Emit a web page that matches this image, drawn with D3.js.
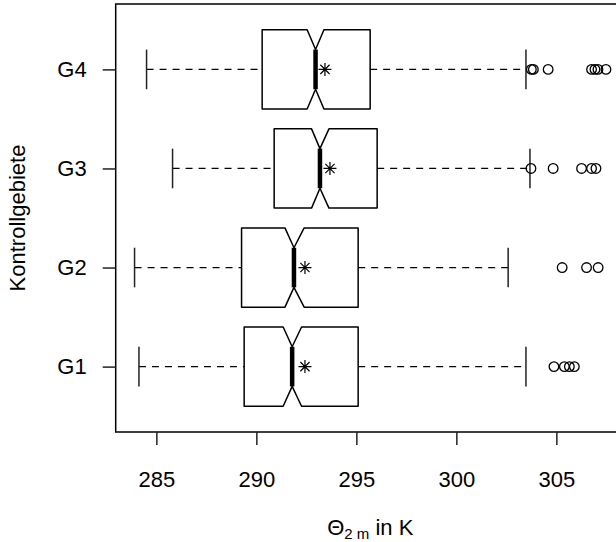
<!DOCTYPE html>
<html>
<head>
<meta charset="utf-8">
<script src="https://cdn.jsdelivr.net/npm/d3@7"></script>
<style>
    body { margin: 0; background: #fff; }
    svg { display: block; font-family: "Liberation Sans", Arial, sans-serif; }
</style>
</head>
<body>
<svg id="chart" width="616" height="542"></svg>
<script>
// boxplot statistics (K)
const groups      = ["G1", "G2", "G3", "G4"];
const whiskerLow  = [284.13, 283.91, 285.81, 284.51];
const q1          = [289.39, 289.26, 290.89, 290.29];
const notchLow    = [291.34, 291.43, 292.76, 292.54];
const medians     = [291.79, 291.88, 293.18, 292.96];
const notchHigh   = [292.26, 292.39, 293.63, 293.38];
const q3          = [295.09, 295.09, 296.04, 295.69];
const whiskerHigh = [303.48, 302.59, 303.68, 303.48];
const means       = [292.43, 292.43, 293.68, 293.43];
const outliers    = [
    [304.88, 305.40, 305.65, 305.90],
    [305.29, 306.51, 307.09],
    [303.73, 304.84, 306.26, 306.76, 306.98],
    [303.75, 303.85, 304.59, 306.76, 306.93, 307.08, 307.48]
];
const xTicks = [285, 290, 295, 300, 305];

const plot = {left: 115.7, top: 4, bottom: 432};
const fontSize = 22;

const stats = groups.map((g, i) => ({
    name: g, pos: i + 1,
    lo: whiskerLow[i], q1: q1[i], nlo: notchLow[i], med: medians[i],
    nhi: notchHigh[i], q3: q3[i], hi: whiskerHigh[i], mean: means[i],
    out: outliers[i]
}));

// R style 4% range extension
const allVals = stats.flatMap(s => [s.lo, s.hi, ...s.out]);
const xmin = d3.min(allVals), xmax = d3.max(allVals);
const ext = (xmax - xmin) * 0.04;

// pixel per unit fixed by the tick spacing in the picture
const pxPerK = 20;
const x = d3.scaleLinear()
    .domain([xmin - ext, xmax + ext])
    .range([plot.left, plot.left + (xmax - xmin + 2 * ext) * pxPerK]);

const y = d3.scaleLinear()
    .domain([0.5 - 0.16, groups.length + 0.5 + 0.16])
    .range([plot.bottom, plot.top]);

const svg = d3.select("#chart");
const bw = 0.4; // half box width in group units
const hw = d => Math.abs(y(0) - y(d));

const g = svg.append("g");

stats.forEach(s => {
    const cy = y(s.pos);
    const h = hw(bw), hn = hw(bw / 2), st = hw(bw / 2);

    // whiskers (dashed)
    [[s.lo, s.q1], [s.q3, s.hi]].forEach(([a, b]) => {
        g.append("line")
            .attr("x1", x(a)).attr("x2", x(b)).attr("y1", cy).attr("y2", cy)
            .attr("stroke", "#000").attr("stroke-width", 1.3).attr("stroke-dasharray", "7,6");
    });

    // staples
    [s.lo, s.hi].forEach(v => {
        g.append("line")
            .attr("x1", x(v)).attr("x2", x(v)).attr("y1", cy - st).attr("y2", cy + st)
            .attr("stroke", "#222").attr("stroke-width", 1.5);
    });

    // notched box
    const pts = [
        [x(s.q1), cy - h], [x(s.nlo), cy - h], [x(s.med), cy - hn], [x(s.nhi), cy - h],
        [x(s.q3), cy - h], [x(s.q3), cy + h], [x(s.nhi), cy + h], [x(s.med), cy + hn],
        [x(s.nlo), cy + h], [x(s.q1), cy + h]
    ];
    g.append("path")
        .attr("d", "M" + pts.map(p => p.join(",")).join("L") + "Z")
        .attr("fill", "#fff").attr("stroke", "#000").attr("stroke-width", 1.5)
        .attr("stroke-linejoin", "round");

    // median
    g.append("line")
        .attr("x1", x(s.med)).attr("x2", x(s.med)).attr("y1", cy - hn).attr("y2", cy + hn)
        .attr("stroke", "#000").attr("stroke-width", 4.5);

    // mean (pch 8)
    const mx = x(s.mean), a = 6.5, b = 4.6;
    g.append("path")
        .attr("d", `M${mx - a},${cy}L${mx + a},${cy}M${mx},${cy - a}L${mx},${cy + a}` +
                   `M${mx - b},${cy - b}L${mx + b},${cy + b}M${mx - b},${cy + b}L${mx + b},${cy - b}`)
        .attr("stroke", "#000").attr("stroke-width", 1.2).attr("fill", "none");

    // outliers
    g.selectAll(null)
        .data(s.out)
        .join("circle")
        .attr("cx", d => x(d)).attr("cy", cy).attr("r", 4.8)
        .attr("fill", "none").attr("stroke", "#000").attr("stroke-width", 1.3);
});

// frame
svg.append("rect")
    .attr("x", x.range()[0]).attr("y", plot.top)
    .attr("width", x.range()[1] - x.range()[0]).attr("height", plot.bottom - plot.top)
    .attr("fill", "none").attr("stroke", "#000").attr("stroke-width", 1.5);

// x axis
const xAxis = svg.append("g")
    .attr("transform", `translate(0,${plot.bottom})`)
    .call(d3.axisBottom(x).tickValues(xTicks).tickSize(13).tickPadding(26).tickSizeOuter(0));
xAxis.select(".domain").remove();
xAxis.selectAll("line").attr("stroke", "#222").attr("stroke-width", 1.5);
xAxis.selectAll("text").attr("font-size", fontSize).attr("fill", "#000")
    .attr("font-family", "Liberation Sans, Arial, sans-serif");

// y axis
const yAxis = svg.append("g")
    .attr("transform", `translate(${plot.left},0)`)
    .call(d3.axisLeft(y).tickValues(stats.map(s => s.pos)).tickFormat(d => groups[d - 1])
        .tickSize(13).tickPadding(16));
yAxis.select(".domain").remove();
yAxis.selectAll("line").attr("stroke", "#222").attr("stroke-width", 1.5);
yAxis.selectAll("text").attr("font-size", fontSize).attr("fill", "#000")
    .attr("font-family", "Liberation Sans, Arial, sans-serif");

// axis titles
const xt = svg.append("text")
    .attr("x", (x.range()[0] + x.range()[1]) / 2).attr("y", 535)
    .attr("text-anchor", "middle").attr("font-size", fontSize);
xt.append("tspan").text("Θ");
xt.append("tspan").attr("dy", 4).attr("font-size", 15).text("2 m");
xt.append("tspan").attr("dy", -4).text(" in K");

svg.append("text")
    .attr("transform", `translate(25,${(plot.top + plot.bottom) / 2}) rotate(-90)`)
    .attr("text-anchor", "middle").attr("font-size", fontSize)
    .text("Kontrollgebiete");
</script>
</body>
</html>
